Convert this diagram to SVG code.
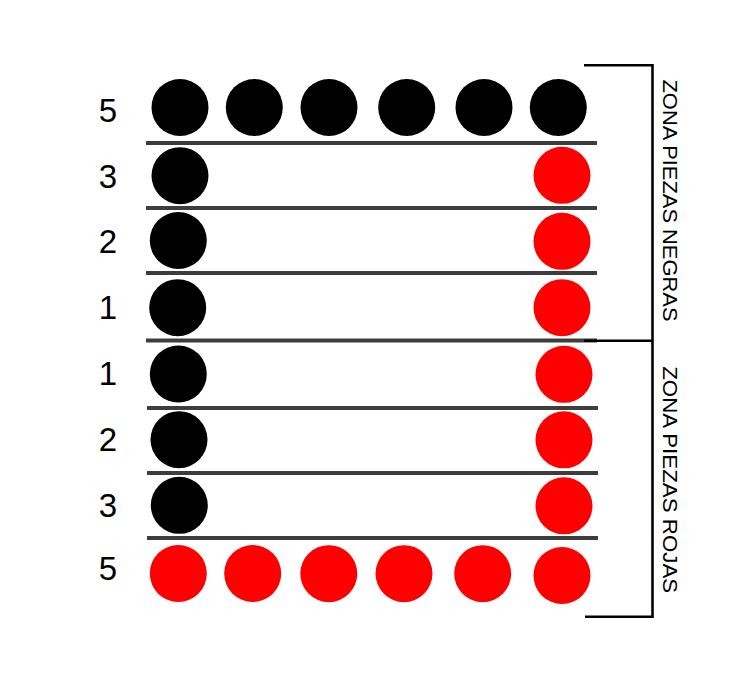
<svg xmlns="http://www.w3.org/2000/svg" width="741" height="677" viewBox="0 0 741 677">
<style>
.lbl{font-family:"Liberation Sans",Arial,sans-serif;font-size:33px;fill:#000;text-anchor:middle}
.zone{font-family:"Liberation Sans",Arial,sans-serif;font-size:21px;fill:#000;text-anchor:middle}
.b{fill:#000}
.r{fill:#ff0000}
.row{stroke:#3d3d3d;stroke-width:4;fill:none}
.br{stroke:#000;stroke-width:2.6;fill:none}
</style>
<rect width="741" height="677" fill="#fff"/>
<g id="rows">
<line class="row" x1="146" y1="143" x2="597" y2="143"/>
<line class="row" x1="146" y1="208" x2="597" y2="208"/>
<line class="row" x1="146" y1="273" x2="597" y2="273"/>
<line class="row" x1="146" y1="340.5" x2="597" y2="340.5"/>
<line class="row" x1="147" y1="408" x2="598" y2="408"/>
<line class="row" x1="147" y1="473" x2="598" y2="473"/>
<line class="row" x1="147" y1="538" x2="598" y2="538"/>
</g>
<g id="labels">
<text class="lbl" x="108" y="121.5">5</text>
<text class="lbl" x="108" y="188">3</text>
<text class="lbl" x="108" y="253">2</text>
<text class="lbl" x="108" y="319">1</text>
<text class="lbl" x="108" y="384.5">1</text>
<text class="lbl" x="108" y="451">2</text>
<text class="lbl" x="108" y="516.5">3</text>
<text class="lbl" x="108" y="580">5</text>
</g>
<g id="black-pieces">
<circle class="b" cx="180" cy="107.5" r="28.5"/>
<circle class="b" cx="254.3" cy="107.5" r="28.5"/>
<circle class="b" cx="329" cy="107.5" r="28.5"/>
<circle class="b" cx="406.7" cy="107.5" r="28.5"/>
<circle class="b" cx="484" cy="107.5" r="28.5"/>
<circle class="b" cx="558.3" cy="107.5" r="28.5"/>
<circle class="b" cx="180" cy="175.7" r="28.5"/>
<circle class="b" cx="178.3" cy="240.5" r="28.5"/>
<circle class="b" cx="177.7" cy="307.7" r="28.5"/>
<circle class="b" cx="178.3" cy="374" r="28.5"/>
<circle class="b" cx="179" cy="439.7" r="28.5"/>
<circle class="b" cx="179.3" cy="505.3" r="28.5"/>
</g>
<g id="red-pieces">
<circle class="r" cx="562" cy="175.3" r="28.5"/>
<circle class="r" cx="562" cy="241.3" r="28.5"/>
<circle class="r" cx="562" cy="307.7" r="28.5"/>
<circle class="r" cx="564" cy="374.3" r="28.5"/>
<circle class="r" cx="564" cy="439.8" r="28.5"/>
<circle class="r" cx="564" cy="505.8" r="28.5"/>
<circle class="r" cx="178.3" cy="573.5" r="28.5"/>
<circle class="r" cx="252.7" cy="573.5" r="28.5"/>
<circle class="r" cx="328.8" cy="573.7" r="28.5"/>
<circle class="r" cx="404" cy="573.7" r="28.5"/>
<circle class="r" cx="482.7" cy="573.7" r="28.5"/>
<circle class="r" cx="562" cy="575.5" r="28.5"/>
</g>
<g id="brackets">
<path class="br" d="M584 65.3 H652.5 V616.7 H585"/>
<path class="br" d="M584 340.8 H652.5"/>
</g>
<g id="zone-negras">
<text class="zone" transform="translate(662.5,200.5) rotate(90)" textLength="242" lengthAdjust="spacingAndGlyphs">ZONA PIEZAS NEGRAS</text>
</g>
<g id="zone-rojas">
<text class="zone" transform="translate(663.3,479.7) rotate(90)" textLength="227" lengthAdjust="spacingAndGlyphs">ZONA PIEZAS ROJAS</text>
</g>
</svg>
